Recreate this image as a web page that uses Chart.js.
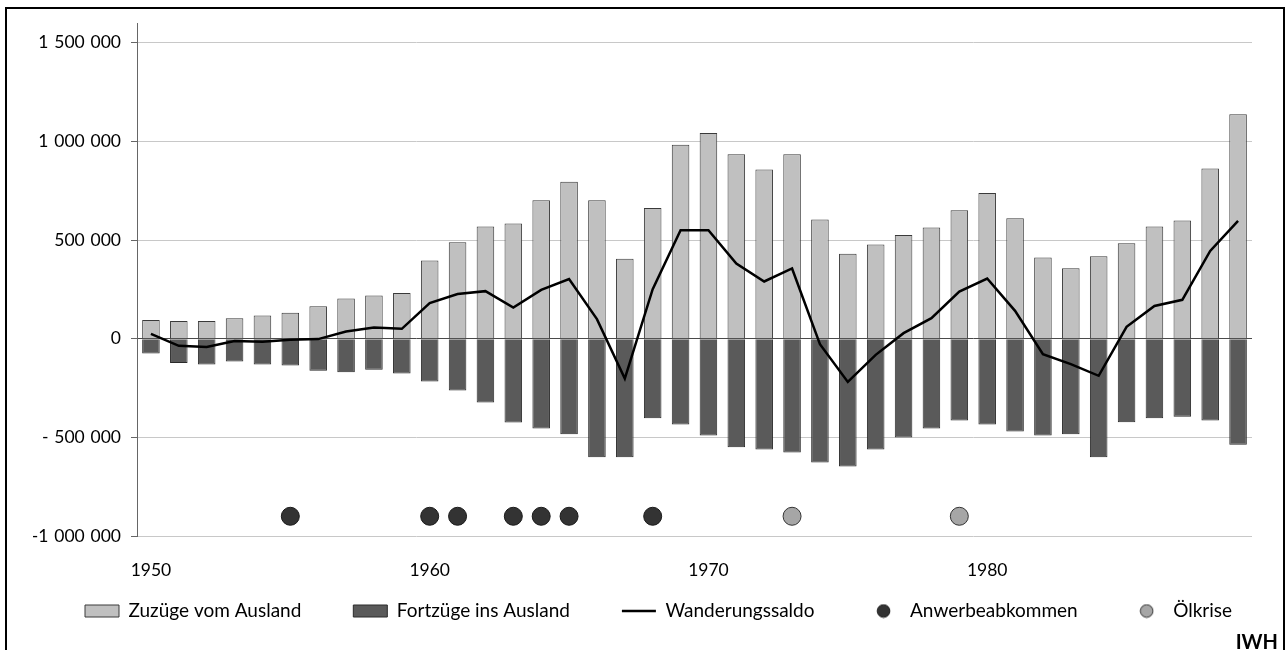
<!DOCTYPE html>
<html>
<head>
<meta charset="utf-8">
<script src="https://cdn.jsdelivr.net/npm/chart.js@4/dist/chart.umd.min.js"></script>
<style>
  body { margin: 0; background: #fff; }
  #wrap { position: relative; width: 1285px; height: 650px; overflow: hidden; }
  #frame { position: absolute; left: 5px; top: 7px; width: 1276px; height: 700px; border: 2px solid #000; pointer-events: none; }
  #iwh { position: absolute; right: 7px; top: 629px; font: bold 20px Lato, sans-serif; color: #000; }
  canvas { position: absolute; left: 0; top: 0; }
</style>
</head>
<body>
<div id="wrap">
  <canvas id="chartWanderung" width="1285" height="650"></canvas>
  <div id="frame"></div>
  <div id="iwh">IWH</div>
</div>
<script>
  // Jahre
  var years = ['1950', '1951', '1952', '1953', '1954', '1955', '1956', '1957', '1958', '1959',
    '1960', '1961', '1962', '1963', '1964', '1965', '1966', '1967', '1968', '1969',
    '1970', '1971', '1972', '1973', '1974', '1975', '1976', '1977', '1978', '1979',
    '1980', '1981', '1982', '1983', '1984', '1985', '1986', '1987', '1988', '1989'];

  var zuzuege = [95000, 90000, 90000, 104000, 118000, 131000, 165000, 204000, 219000, 231000,
    396000, 489000, 569000, 584000, 702000, 795000, 702000, 405000, 663000, 983000,
    1043000, 935000, 858000, 935000, 604000, 430000, 478000, 525000, 564000, 651000,
    738000, 611000, 412000, 357000, 418000, 484000, 569000, 599000, 863000, 1137000];

  var fortzuege = [-75000, -123000, -131000, -116000, -131000, -136000, -163000, -170000, -158000, -176000,
    -217000, -263000, -323000, -425000, -455000, -484000, -601000, -601000, -403000, -435000,
    -491000, -550000, -562000, -577000, -628000, -648000, -562000, -501000, -455000, -415000,
    -435000, -471000, -491000, -484000, -601000, -423000, -403000, -396000, -415000, -537000];

  var saldo = [24000, -36000, -42000, -12000, -16000, -5000, -2000, 36000, 57000, 50000,
    180000, 226000, 241000, 158000, 247000, 302000, 99000, -202000, 251000, 550000,
    550000, 381000, 290000, 356000, -28000, -219000, -82000, 28000, 104000, 239000,
    305000, 141000, -79000, -129000, -188000, 60000, 166000, 197000, 445000, 597000];

  var anwerbeJahre = ['1955', '1960', '1961', '1963', '1964', '1965', '1968'];
  var oelkriseJahre = ['1973', '1979'];
  var markerWert = -900000;

  var yTicks = [-1000000, -500000, 0, 500000, 1000000, 1500000];
  var yTickLabels = ['-1\u2004000\u2004000', '-\u2004500\u2004000', '0', '500\u2004000', '1\u2004000\u2004000', '1\u2004500\u2004000'];
  var xTickLabels = ['1950', '1960', '1970', '1980'];

  var schrift = 'Lato, "Open Sans", sans-serif';

  function punkt(fuell, rand) {
    var c = document.createElement('canvas');
    c.width = 15; c.height = 15;
    var g = c.getContext('2d');
    g.beginPath();
    g.arc(7.5, 7.5, 6.3, 0, Math.PI * 2);
    g.fillStyle = fuell;
    g.fill();
    g.lineWidth = 1;
    g.strokeStyle = rand;
    g.stroke();
    return c;
  }
  var punktDunkel = punkt('#333333', '#1a1a1a');
  var punktHell = punkt('#a6a6a6', '#333333');

  // Legende etwas hoeher setzen (grosser Abstand zwischen Eintraegen)
  var legendePosition = {
    id: 'legendePosition',
    afterLayout: function (chart) {
      if (chart.legend) {
        chart.legend.top = 549.5;
        chart.legend.bottom = 650;
        chart.legend.height = 100.5;
      }
    }
  };

  var ctx = document.getElementById('chartWanderung');

  new Chart(ctx, {
    data: {
      labels: years,
      datasets: [
        {
          type: 'bar',
          label: 'Zuzüge vom Ausland',
          data: zuzuege,
          backgroundColor: '#c0c0c0',
          borderColor: '#3a3a3a',
          borderWidth: 1,
          grouped: false,
          categoryPercentage: 1,
          barPercentage: 0.63,
          order: 2
        },
        {
          type: 'bar',
          label: 'Fortzüge ins Ausland',
          data: fortzuege,
          backgroundColor: '#5a5a5a',
          borderColor: '#2a2a2a',
          borderWidth: 1,
          grouped: false,
          categoryPercentage: 1,
          barPercentage: 0.63,
          order: 2
        },
        {
          type: 'line',
          label: 'Wanderungssaldo',
          data: saldo,
          borderColor: '#000',
          backgroundColor: '#000',
          borderWidth: 2.5,
          pointRadius: 0,
          tension: 0,
          order: 1
        },
        {
          type: 'line',
          label: 'Anwerbeabkommen',
          data: years.map(function (j) { return anwerbeJahre.indexOf(j) >= 0 ? markerWert : null; }),
          showLine: false,
          pointRadius: 9,
          pointBackgroundColor: '#333333',
          pointBorderColor: '#1a1a1a',
          pointBorderWidth: 1,
          backgroundColor: '#333333',
          borderColor: '#1a1a1a',
          order: 0
        },
        {
          type: 'line',
          label: 'Ölkrise',
          data: years.map(function (j) { return oelkriseJahre.indexOf(j) >= 0 ? markerWert : null; }),
          showLine: false,
          pointRadius: 9,
          pointBackgroundColor: '#a6a6a6',
          pointBorderColor: '#333333',
          pointBorderWidth: 1,
          backgroundColor: '#a6a6a6',
          borderColor: '#333333',
          order: 0
        }
      ]
    },
    plugins: [legendePosition],
    options: {
      responsive: false,
      animation: false,
      layout: {
        padding: { left: 33, right: 0, top: 23, bottom: 34 }
      },
      scales: {
        x: {
          type: 'category',
          offset: true,
          grid: { display: false, drawTicks: false },
          border: { display: false },
          ticks: {
            autoSkip: false,
            maxRotation: 0,
            padding: 24,
            color: '#000',
            font: { family: schrift, size: 17.5 },
            callback: function (v, i) {
              var l = years[i];
              return xTickLabels.indexOf(l) >= 0 ? l : '';
            }
          },
          afterFit: function (scale) { scale.height = 50; }
        },
        y: {
          min: -1000000,
          max: 1600000,
          afterBuildTicks: function (scale) {
            scale.ticks = yTicks.map(function (v) { return { value: v }; });
          },
          afterFit: function (scale) { scale.width = 104; },
          grid: {
            color: function (c) { return c.tick && c.tick.value === 0 ? '#4a4a4a' : '#c8c8c8'; },
            tickColor: '#666',
            tickLength: 6
          },
          border: { display: true, color: '#666' },
          ticks: {
            padding: 10,
            color: '#000',
            font: { family: schrift, size: 17.5 },
            callback: function (v) {
              var i = yTicks.indexOf(v);
              return i >= 0 ? yTickLabels[i] : '';
            }
          }
        },
        // leerer Rand rechts, damit die Legende in eine Zeile passt
        rand: {
          position: 'right',
          grid: { display: false, drawTicks: false },
          border: { display: false },
          ticks: { display: false },
          afterFit: function (scale) { scale.width = 33; }
        }
      },
      plugins: {
        tooltip: { enabled: false },
        legend: {
          display: true,
          position: 'bottom',
          align: 'start',
          maxHeight: 30,
          labels: {
            usePointStyle: true,
            pointStyleWidth: 34,
            boxHeight: 12,
            padding: 52,
            color: '#000',
            font: { family: schrift, size: 19 },
            sort: function (a, b) { return a.datasetIndex - b.datasetIndex; },
            generateLabels: function (chart) {
              var items = Chart.defaults.plugins.legend.labels.generateLabels(chart);
              items.forEach(function (it) {
                if (it.datasetIndex === 0 || it.datasetIndex === 1) { it.pointStyle = 'rect'; }
                if (it.datasetIndex === 2) { it.pointStyle = 'line'; it.lineWidth = 2.5; }
                if (it.datasetIndex === 3) { it.pointStyle = punktDunkel; }
                if (it.datasetIndex === 4) { it.pointStyle = punktHell; }
              });
              return items;
            }
          }
        }
      }
    }
  });
</script>
</body>
</html>
